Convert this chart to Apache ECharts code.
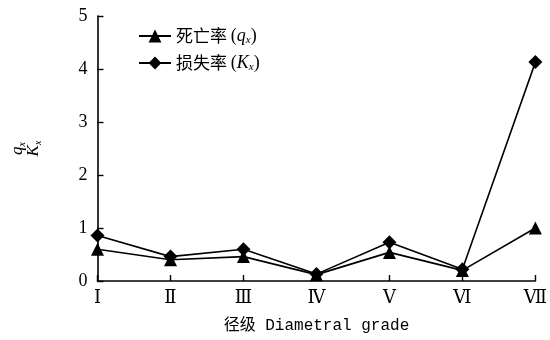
<!DOCTYPE html>
<html>
<head>
<meta charset="utf-8">
<script src="https://cdn.jsdelivr.net/npm/echarts@6/dist/echarts.min.js"></script>
<style>
  html, body { margin: 0; padding: 0; background: #fff; }
  #chart { width: 550px; height: 340px; }
</style>
</head>
<body>
<div id="chart"></div>
<script>
// Diameter grades and the two rates per grade
const grades = ['Ⅰ', 'Ⅱ', 'Ⅲ', 'Ⅳ', 'Ⅴ', 'Ⅵ', 'Ⅶ'];
const mortality = [0.60, 0.40, 0.46, 0.12, 0.54, 0.20, 1.00];   // 死亡率 q_x
const lossRate  = [0.86, 0.46, 0.60, 0.13, 0.73, 0.22, 4.13];   // 损失率 K_x
const yTicks = [0, 1, 2, 3, 4, 5];

const serif = '"Liberation Serif", "DejaVu Serif", serif';
const cjk = '"Noto Sans CJK SC", sans-serif';

const chart = echarts.init(document.getElementById('chart'), null, { renderer: 'canvas' });

const lineStyle = { color: '#000', width: 1.6 };

chart.setOption({
  animation: false,
  backgroundColor: '#fff',
  grid: { left: 85, right: 12, top: 16, bottom: 59, containLabel: false },
  legend: {
    left: 133,
    top: 22,
    orient: 'vertical',
    itemGap: 8,
    itemWidth: 32,
    itemHeight: 16,
    textStyle: {
      color: '#000',
      fontSize: 17,
      fontFamily: cjk,
      rich: {
        c: { fontFamily: cjk, fontSize: 17, color: '#000' },
        p: { fontFamily: serif, fontSize: 18, color: '#000' },
        i: { fontFamily: serif, fontStyle: 'italic', fontSize: 18, color: '#000' },
        s: { fontFamily: serif, fontStyle: 'italic', fontSize: 11, color: '#000', padding: [9, 0, 0, 0] }
      }
    },
    formatter: function (name) {
      if (name === '死亡率') return '{c|死亡率} {p|(}{i|q}{s|x}{p|)}';
      return '{c|损失率} {p|(}{i|K}{s|x}{p|)}';
    },
    data: ['死亡率', '损失率']
  },
  xAxis: {
    type: 'category',
    data: grades,
    boundaryGap: false,
    name: '径级 Diametral grade',
    nameLocation: 'middle',
    nameGap: 37,
    nameTextStyle: { color: '#000', fontSize: 16, fontFamily: '"Liberation Mono", "Noto Sans CJK SC", monospace' },
    axisLine: { lineStyle: { color: '#000', width: 1.6 } },
    axisTick: { inside: true, length: 6, alignWithLabel: true, lineStyle: { color: '#000', width: 1.4 } },
    axisLabel: { color: '#000', fontSize: 18, fontFamily: serif, margin: 8 },
    splitLine: { show: false }
  },
  yAxis: {
    type: 'value',
    min: 0,
    max: 5,
    interval: 1,
    name: '{q|q}{s|x}\n{q|K}{s|x}',
    nameLocation: 'middle',
    nameRotate: 90,
    nameGap: 56,
    nameTextStyle: {
      color: '#000',
      rich: {
        q: { fontFamily: serif, fontStyle: 'italic', fontSize: 17, color: '#000', lineHeight: 16 },
        s: { fontFamily: serif, fontStyle: 'italic', fontSize: 10, color: '#000', lineHeight: 16, padding: [9, 0, 0, 0] }
      }
    },
    axisLine: { show: true, lineStyle: { color: '#000', width: 1.6 } },
    axisTick: { show: true, inside: true, length: 6, lineStyle: { color: '#000', width: 1.4 } },
    axisLabel: {
      color: '#000', fontSize: 18, fontFamily: serif, margin: 10,
      formatter: function (v) { return yTicks.indexOf(v) >= 0 ? String(v) : ''; }
    },
    splitLine: { show: false }
  },
  series: [
    {
      name: '死亡率',
      type: 'line',
      data: mortality,
      symbol: 'triangle',
      symbolSize: 13,
      itemStyle: { color: '#000' },
      lineStyle: lineStyle,
      z: 3
    },
    {
      name: '损失率',
      type: 'line',
      data: lossRate,
      symbol: 'diamond',
      symbolSize: 14,
      itemStyle: { color: '#000' },
      lineStyle: lineStyle,
      z: 2
    }
  ]
});
</script>
</body>
</html>
